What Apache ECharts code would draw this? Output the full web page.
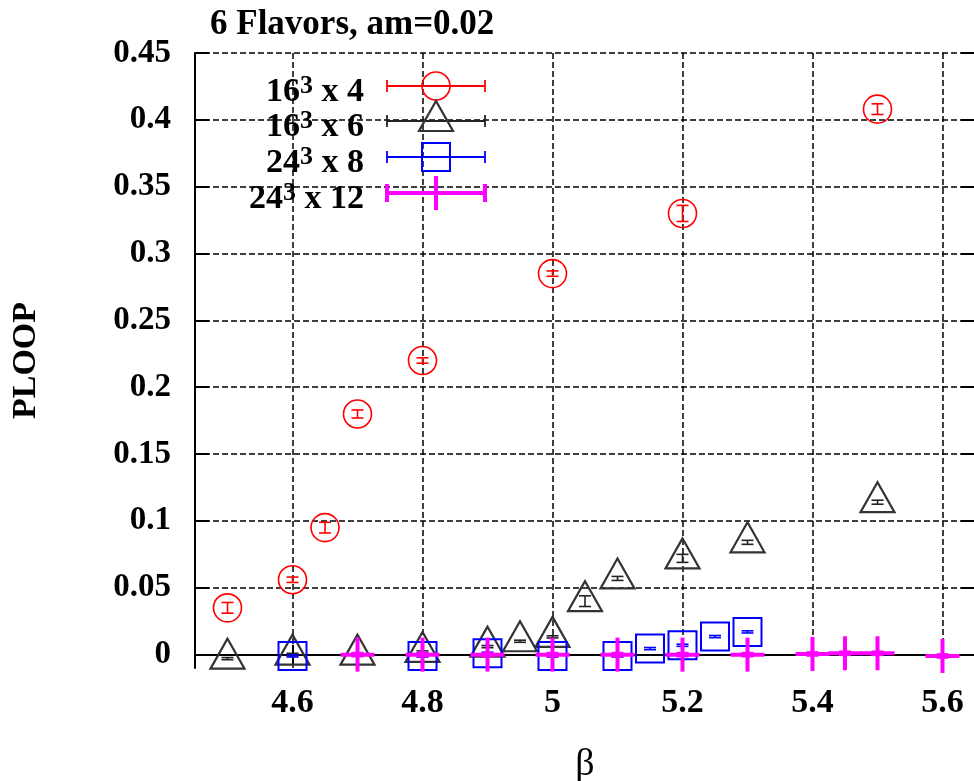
<!DOCTYPE html>
<html>
<head>
<meta charset="utf-8">
<script src="https://cdn.jsdelivr.net/npm/echarts@6/dist/echarts.min.js"></script>
<style>html,body{margin:0;padding:0;background:#fff;}#c{width:974px;height:781px;}</style>
</head>
<body>
<div id="c"></div>
<script>
// ---- data ----
const beta4  = [4.5, 4.6, 4.65, 4.7, 4.8, 5.0, 5.2, 5.5];
const ploop4 = [0.035, 0.056, 0.095, 0.18, 0.22, 0.285, 0.33, 0.408];
const err4   = [0.004, 0.002, 0.004, 0.003, 0.002, 0.002, 0.006, 0.004];

const beta6  = [4.5, 4.6, 4.7, 4.8, 4.9, 4.95, 5.0, 5.05, 5.1, 5.2, 5.3, 5.5];
const ploop6 = [-0.003, 0.0, 0.0, 0.002, 0.006, 0.010, 0.0133, 0.040, 0.057, 0.072, 0.084, 0.114];
const err6   = [0.0008, 0.001, 0.001, 0.0008, 0.0008, 0.0008, 0.0008, 0.004, 0.0015, 0.003, 0.0015, 0.0015];

const beta8  = [4.6, 4.8, 4.9, 5.0, 5.1, 5.15, 5.2, 5.25, 5.3];
const ploop8 = [-0.001, -0.001, 0.001, -0.001, -0.001, 0.0045, 0.007, 0.0135, 0.017];
const err8   = [0.0008, 0.0008, 0.0008, 0.0008, 0.0008, 0.0008, 0.0008, 0.0008, 0.0008];

const beta12  = [4.7, 4.8, 4.9, 5.0, 5.1, 5.2, 5.3, 5.4, 5.45, 5.5, 5.6];
const ploop12 = [0.0, 0.0, 0.0, 0.0, 0.0, 0.0, 0.0, 0.0005, 0.001, 0.001, -0.001];
const err12   = [0.001, 0.001, 0.001, 0.001, 0.001, 0.001, 0.001, 0.001, 0.001, 0.001, 0.001];

const xTicks = [4.6, 4.8, 5.0, 5.2, 5.4, 5.6];
const yTicks = [0, 0.05, 0.1, 0.15, 0.2, 0.25, 0.3, 0.35, 0.4, 0.45];

const titleText = '6 Flavors, am=0.02';
const xName = 'β';
const yName = 'PLOOP';
const legendNames = [['16','3',' x 4'], ['16','3',' x 6'], ['24','3',' x 8'], ['24','3',' x 12']];
const colors = ['#ff0000', '#222222', '#0000ff', '#ff00ff'];

// ---- chart ----
const FONT = '"Liberation Serif", "Times New Roman", serif';
const chart = echarts.init(document.getElementById('c'), null, {renderer: 'canvas'});

function zip(b, p, e) { return b.map((v, i) => [v, p[i], e[i]]); }

function makeRender(kind, color) {
  return function (params, api) {
    const x = api.value(0), y = api.value(1), e = api.value(2);
    const c = api.coord([x, y]);
    const t = api.coord([x, y + e])[1];
    const b = api.coord([x, y - e])[1];
    const cw = 6;
    const lw = kind === 'plus' ? 3 : 1.6;
    const barStyle = {stroke: color, lineWidth: lw, fill: null};
    const children = [
      {type: 'line', shape: {x1: c[0], y1: t, x2: c[0], y2: b}, style: barStyle},
      {type: 'line', shape: {x1: c[0] - cw, y1: t, x2: c[0] + cw, y2: t}, style: barStyle},
      {type: 'line', shape: {x1: c[0] - cw, y1: b, x2: c[0] + cw, y2: b}, style: barStyle}
    ];
    if (kind === 'circle') {
      children.push({type: 'circle', shape: {cx: c[0], cy: c[1], r: 14}, style: {fill: null, stroke: color, lineWidth: 1.6}});
    } else if (kind === 'triangle') {
      children.push({type: 'polygon', shape: {points: [[c[0], c[1] - 20], [c[0] - 17, c[1] + 10], [c[0] + 17, c[1] + 10]]}, style: {fill: null, stroke: '#333', lineWidth: 2.2}});
    } else if (kind === 'square') {
      children.push({type: 'rect', shape: {x: c[0] - 14, y: c[1] - 14, width: 28, height: 28}, style: {fill: null, stroke: color, lineWidth: 2}});
    } else {
      children.push({type: 'line', shape: {x1: c[0] - 17, y1: c[1], x2: c[0] + 17, y2: c[1]}, style: {stroke: color, lineWidth: 4}});
      children.push({type: 'line', shape: {x1: c[0], y1: c[1] - 17, x2: c[0], y2: c[1] + 17}, style: {stroke: color, lineWidth: 4}});
    }
    return {type: 'group', children: children};
  };
}

const kinds = ['circle', 'triangle', 'square', 'plus'];
const datasets = [zip(beta4, ploop4, err4), zip(beta6, ploop6, err6), zip(beta8, ploop8, err8), zip(beta12, ploop12, err12)];

const series = datasets.map((d, i) => ({
  type: 'custom',
  name: legendNames[i].join(''),
  renderItem: makeRender(kinds[i], colors[i]),
  data: d,
  encode: {x: 0, y: 1},
  clip: false,
  z: 10 + i,
  animation: false
}));

// legend (drawn as graphic, gnuplot style)
const legendGraphic = [];
const rowY = [86, 121, 157, 193];
legendNames.forEach((n, i) => {
  const y = rowY[i];
  const col = colors[i];
  const lw = i === 3 ? 4 : 1.8;
  const capH = i === 3 ? 9 : 6;
  legendGraphic.push({
    type: 'text', x: 364, y: y + 5, z: 100,
    style: {
      text: '{n|' + n[0] + '}{s|' + n[1] + '}{n|' + n[2] + '}',
      align: 'right', verticalAlign: 'middle',
      rich: {
        n: {fontFamily: FONT, fontWeight: 'bold', fontSize: 34, fill: '#000', lineHeight: 36, verticalAlign: 'bottom'},
        s: {fontFamily: FONT, fontWeight: 'bold', fontSize: 26, fill: '#000', lineHeight: 36, verticalAlign: 'top', padding: [0, 0, 8, 0]}
      }
    }
  });
  legendGraphic.push({type: 'line', z: 100, shape: {x1: 387, y1: y, x2: 485, y2: y}, style: {stroke: col, lineWidth: lw}});
  legendGraphic.push({type: 'line', z: 100, shape: {x1: 387, y1: y - capH, x2: 387, y2: y + capH}, style: {stroke: col, lineWidth: lw}});
  legendGraphic.push({type: 'line', z: 100, shape: {x1: 485, y1: y - capH, x2: 485, y2: y + capH}, style: {stroke: col, lineWidth: lw}});
  const mx = 436;
  if (i === 0) legendGraphic.push({type: 'circle', z: 101, shape: {cx: mx, cy: y, r: 14}, style: {fill: null, stroke: col, lineWidth: 1.6}});
  if (i === 1) legendGraphic.push({type: 'polygon', z: 101, shape: {points: [[mx, y - 20], [mx - 17, y + 10], [mx + 17, y + 10]]}, style: {fill: null, stroke: '#333', lineWidth: 2.2}});
  if (i === 2) legendGraphic.push({type: 'rect', z: 101, shape: {x: mx - 14, y: y - 14, width: 28, height: 28}, style: {fill: null, stroke: col, lineWidth: 2}});
  if (i === 3) legendGraphic.push({type: 'line', z: 101, shape: {x1: mx, y1: y - 17, x2: mx, y2: y + 17}, style: {stroke: col, lineWidth: 4}});
});

const gridLine = {show: true, lineStyle: {color: '#000', width: 1.5, type: [6, 3]}};
const axisLineStyle = {show: true, lineStyle: {color: '#000', width: 2}};

const option = {
  backgroundColor: '#fff',
  animation: false,
  title: {
    text: titleText, left: 205, top: 2,
    textStyle: {fontFamily: FONT, fontWeight: 'bold', fontSize: 35, color: '#000'}
  },
  grid: {left: 195, top: 53, width: 780, height: 615, containLabel: false, outerBoundsMode: 'none'},
  xAxis: [{
    type: 'value', min: 4.45, max: 5.65, position: 'bottom',
    axisLine: axisLineStyle,
    axisTick: {show: true, inside: true, length: 10, customValues: xTicks, lineStyle: {color: '#000', width: 2}},
    axisLabel: {customValues: xTicks, formatter: v => String(+(+v).toFixed(2)), margin: 18,
      fontFamily: FONT, fontWeight: 'bold', fontSize: 34, color: '#000'},
    splitLine: gridLine,
    name: xName, nameLocation: 'middle', nameGap: 78,
    nameTextStyle: {fontFamily: FONT, fontSize: 38, color: '#000'}
  }, {
    type: 'value', min: 4.45, max: 5.65, position: 'top',
    axisLine: axisLineStyle,
    axisTick: {show: true, inside: true, length: 10, customValues: xTicks, lineStyle: {color: '#000', width: 2}},
    axisLabel: {show: false},
    splitLine: {show: false}
  }],
  yAxis: [{
    type: 'value', min: -0.01, max: 0.45, position: 'left',
    axisLine: axisLineStyle,
    axisTick: {show: true, inside: true, length: 14, customValues: yTicks, lineStyle: {color: '#000', width: 2}},
    axisLabel: {customValues: yTicks, formatter: v => String(+(+v).toFixed(2)), margin: 24,
      fontFamily: FONT, fontWeight: 'bold', fontSize: 33, color: '#000'},
    splitLine: gridLine,
    name: yName, nameLocation: 'middle', nameGap: 152, nameRotate: 90,
    nameTextStyle: {fontFamily: FONT, fontWeight: 'bold', fontSize: 34, color: '#000'}
  }, {
    type: 'value', min: -0.01, max: 0.45, position: 'right',
    axisLine: axisLineStyle,
    axisTick: {show: true, inside: true, length: 14, customValues: yTicks, lineStyle: {color: '#000', width: 2}},
    axisLabel: {show: false},
    splitLine: {show: false}
  }],
  graphic: legendGraphic,
  series: series
};
chart.setOption(option);
</script>
</body>
</html>
